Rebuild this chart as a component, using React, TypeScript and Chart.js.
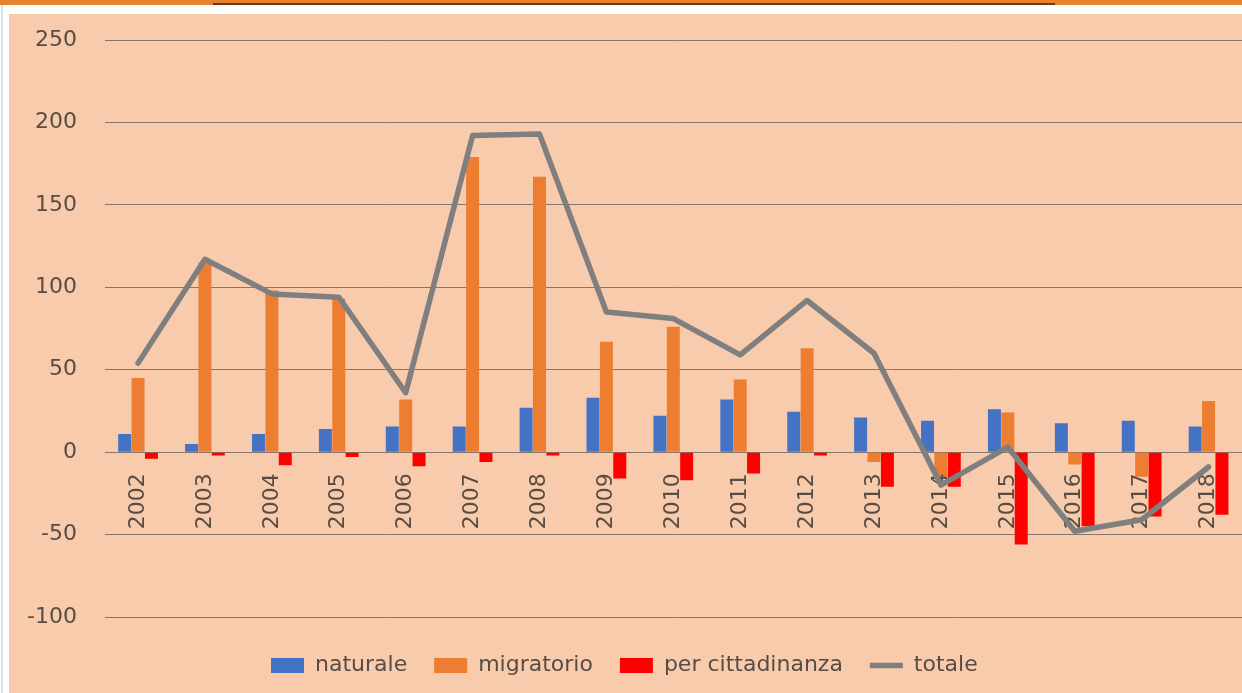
import React, { useEffect, useRef } from 'react';
import { Chart, registerables } from 'chart.js';

Chart.register(...registerables);

// ---- data ----
const years = ['2002', '2003', '2004', '2005', '2006', '2007', '2008', '2009', '2010', '2011', '2012', '2013', '2014', '2015', '2016', '2017', '2018'];
const naturale = [11, 5, 11, 14, 15.5, 15.5, 27, 33, 22, 32, 24.5, 21, 19, 26, 17.5, 19, 15.5];
const migratorio = [45, 115, 98, 93, 32, 179, 167, 67, 76, 44, 63, -6, -16, 24, -7.5, -15, 31];
const cittadinanza = [-4, -2, -8, -3, -8.5, -6, -2, -16, -17, -13, -2, -21, -21, -56, -45, -39, -38];
const totale = [54, 117, 96, 94, 36, 192, 193, 85, 81, 59, 92, 60, -20, 3, -48, -41, -9];
const seriesNames = ['naturale', 'migratorio', 'per cittadinanza', 'totale'];
const yMin = -100;
const yMax = 250;
const yStep = 50;

// ---- styles ----
const TEXT = '#584c44';
const GRID = '#85776e';
const FONT = "'DejaVu Sans', 'Liberation Sans', sans-serif";
const PEACH = '#F8CBAD';
const BLUE = '#4472C4';
const ORANGE = '#ED7D31';
const RED = '#FF0000';
const GRAY = '#7F7F7F';
const LEGEND_PAD = 27;
const LEGEND_FONT = 22;

const xLabelPlugin = {
  id: 'xLabelsAtZero',
  beforeDatasetDraw(chart: any, args: any) {
    if (args.index !== 3) return;
    const { ctx } = chart;
    const xs = chart.scales.x;
    const ys = chart.scales.y;
    const y0 = ys.getPixelForValue(0) + 21;
    ctx.save();
    ctx.fillStyle = TEXT;
    ctx.font = `22px ${FONT}`;
    ctx.textAlign = 'right';
    ctx.textBaseline = 'middle';
    (chart.data.labels as string[]).forEach((lab, i) => {
      ctx.save();
      ctx.translate(xs.getPixelForValue(i), y0);
      ctx.rotate(-Math.PI / 2);
      ctx.fillText(lab, 0, 0);
      ctx.restore();
    });
    ctx.restore();
  },
};

const legendPlacePlugin = {
  id: 'legendPlace',
  afterLayout(chart: any) {
    const lg = chart.legend;
    if (!lg) return;
    const wantCenterY = 651.5;
    const wantLeft = 262;
    const dy = wantCenterY - (lg.top + LEGEND_PAD + LEGEND_FONT / 2);
    lg.top += dy;
    lg.bottom += dy;
    lg.left = wantLeft - LEGEND_PAD;
  },
};

export default function App() {
  const ref = useRef<HTMLCanvasElement | null>(null);

  useEffect(() => {
    if (!ref.current) return;
    const chart = new Chart(ref.current, {
      type: 'bar',
      data: {
        labels: years,
        datasets: [
          { type: 'bar', label: seriesNames[0], data: naturale, backgroundColor: BLUE, borderWidth: 0, order: 1, barPercentage: 0.97, categoryPercentage: 0.6 } as any,
          { type: 'bar', label: seriesNames[1], data: migratorio, backgroundColor: ORANGE, borderWidth: 0, order: 1, barPercentage: 0.97, categoryPercentage: 0.6 } as any,
          { type: 'bar', label: seriesNames[2], data: cittadinanza, backgroundColor: RED, borderWidth: 0, order: 1, barPercentage: 0.97, categoryPercentage: 0.6 } as any,
          {
            type: 'line', label: seriesNames[3], data: totale, borderColor: GRAY, backgroundColor: GRAY,
            borderWidth: 5.5, pointRadius: 0, tension: 0, order: 0,
            borderJoinStyle: 'round', borderCapStyle: 'round', fill: false,
          } as any,
        ],
      },
      options: {
        animation: false,
        responsive: false,
        maintainAspectRatio: false,
        layout: { padding: { top: 26, left: 0, right: 0, bottom: 17 } },
        scales: {
          x: { display: false, offset: true, grid: { display: false } },
          y: {
            min: yMin,
            max: yMax,
            ticks: { stepSize: yStep, color: TEXT, font: { family: FONT, size: 22 }, padding: 27.6 },
            grid: { color: GRID, lineWidth: 1, drawTicks: false },
            border: { display: false },
            afterFit: (s: any) => {
              s.width = 95.6;
              s.paddingTop = 0;
              s.paddingBottom = 0;
            },
          },
        },
        plugins: {
          tooltip: { enabled: false },
          legend: {
            position: 'bottom',
            align: 'start',
            maxHeight: 76,
            labels: {
              color: TEXT,
              font: { family: FONT, size: LEGEND_FONT },
              usePointStyle: true,
              pointStyleWidth: 33,
              boxHeight: 15,
              padding: LEGEND_PAD,
              generateLabels: (c: any) => {
                const items = (Chart.defaults.plugins.legend.labels as any).generateLabels(c);
                items.sort((a: any, b: any) => a.datasetIndex - b.datasetIndex);
                items.forEach((it: any) => {
                  if (it.datasetIndex === 3) {
                    it.pointStyle = 'line';
                    it.lineWidth = 5.5;
                    it.strokeStyle = GRAY;
                  } else {
                    it.pointStyle = 'rect';
                    it.lineWidth = 0;
                  }
                });
                return items;
              },
            },
          },
        },
      } as any,
      plugins: [xLabelPlugin, legendPlacePlugin],
    });
    return () => chart.destroy();
  }, []);

  return (
    <div style={{ position: 'fixed', left: 0, top: 0, width: 1242, height: 693, background: '#ffffff', overflow: 'hidden' }}>
      <div style={{ position: 'absolute', left: 0, top: 0, width: 1242, height: 5, background: '#E8822E' }} />
      <div style={{ position: 'absolute', left: 213, top: 3, width: 842, height: 2, background: '#6b3a1a' }} />
      <div style={{ position: 'absolute', left: 1, top: 5, width: 2, height: 688, background: '#d6e4ee' }} />
      <div style={{ position: 'absolute', left: 9, top: 14, width: 1233, height: 679, background: PEACH }}>
        <canvas ref={ref} width={1233} height={679} style={{ display: 'block', width: 1233, height: 679 }} />
      </div>
    </div>
  );
}
